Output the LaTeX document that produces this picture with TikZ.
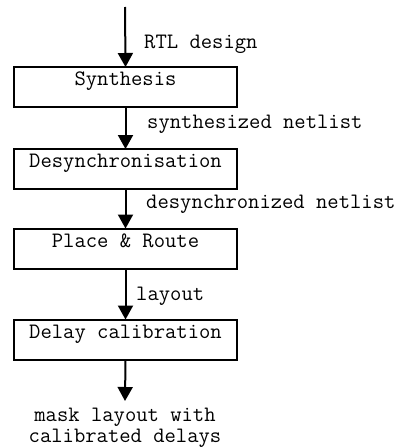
\documentclass[tikz,border=0pt]{standalone}
\usepackage{fontspec}
\usetikzlibrary{arrows.meta}
\begin{document}
\begin{tikzpicture}[x=1pt,y=1pt,
  every node/.style={font=\ttfamily\fontsize{22}{21}\selectfont, inner sep=0pt},
  stage/.style={draw, line width=2pt, minimum width=223pt, minimum height=40pt,
    text height=12pt, text depth=15pt},
  flow/.style={line width=2pt, -{Triangle[length=14pt,width=15pt]}, shorten >=-1pt},
  lbl/.style={anchor=base west}]
  \useasboundingbox (0,0) rectangle (411,-447);
  % processing stages
  \node[stage] (syn) at (125.5,-87) {Synthesis};
  \node[stage] (des) at (125.5,-169) {Desynchronisation};
  \node[stage] (pnr) at (125.5,-248.5) {Place \& Route};
  \node[stage] (cal) at (125.5,-339.5) {Delay calibration};
  % free ends of the flow
  \coordinate (in) at (125,-7);
  \coordinate (out) at (125,-400);
  % connectors
  \draw[flow] (in) -- (syn.north);
  \draw[flow] (syn.south) -- (des.north);
  \draw[flow] (des.south) -- (pnr.north);
  \draw[flow] (pnr.south) -- (cal.north);
  \draw[flow] (cal.south) -- (out);
  % data labels
  \node[lbl] (l1) at (144,-48) {RTL design};
  \node[lbl] (l2) at (147,-128) {synthesized netlist};
  \node[lbl] (l3) at (146,-208) {desynchronized netlist};
  \node[lbl] (l4) at (136,-300) {layout};
  % final product
  \node[anchor=base] (res1) at (125,-421) {mask layout with};
  \node[anchor=base] (res2) at (125,-442) {calibrated delays};
\end{tikzpicture}
\end{document}
